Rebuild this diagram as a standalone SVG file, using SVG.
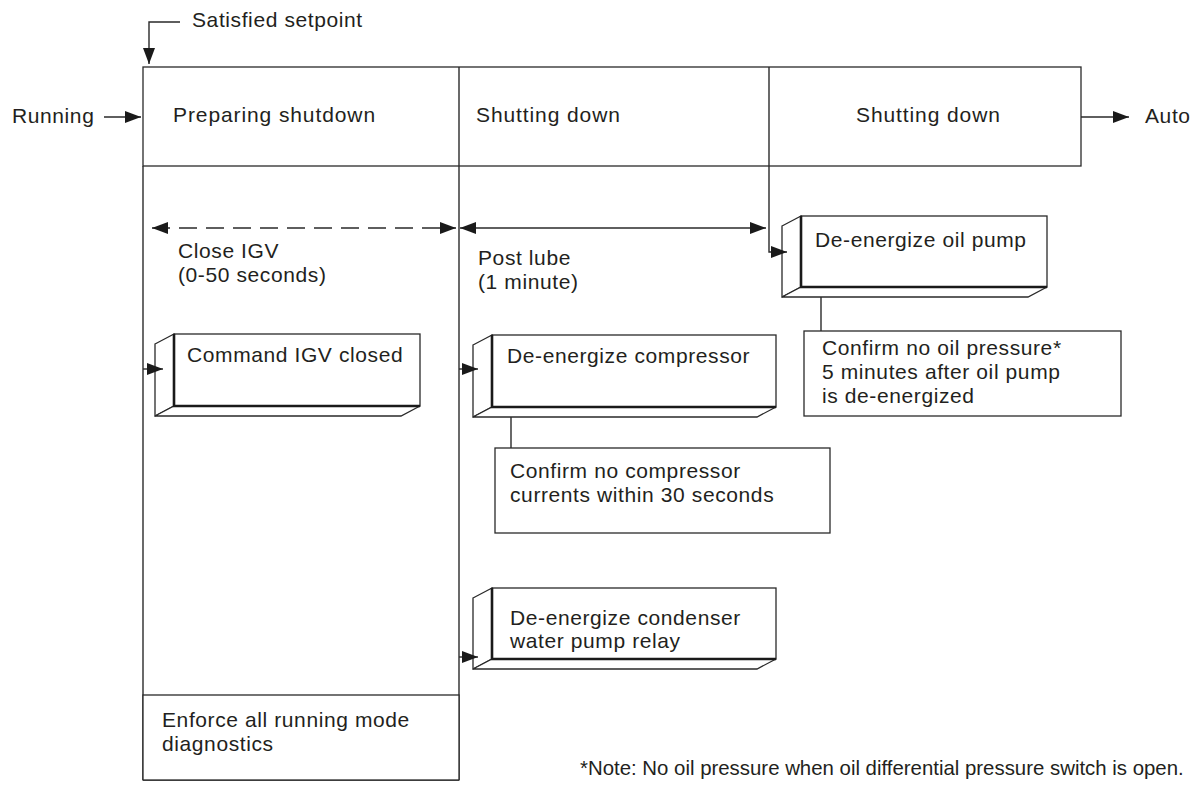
<svg xmlns="http://www.w3.org/2000/svg" width="1193" height="793" viewBox="0 0 1193 793">
<defs>
<style>
text{font-family:"Liberation Sans",Arial,sans-serif;font-size:21px;fill:#231f20;letter-spacing:0.6px}
.hd{letter-spacing:0.9px}
.note{font-size:20.4px;letter-spacing:0px}
.ln{fill:none;stroke:#2a2a2a;stroke-width:1.4}
.face{fill:#fff;stroke:#2a2a2a;stroke-width:1.3}
.thick{fill:none;stroke:#1a1a1a;stroke-width:2.6}
.dash{stroke-dasharray:18 9}
</style>
<marker id="ah" viewBox="0 0 16 12" refX="16" refY="6" markerWidth="16" markerHeight="12" markerUnits="userSpaceOnUse" orient="auto-start-reverse">
<path d="M0,0 L16,6 L0,12 z" fill="#1a1a1a"/>
</marker>
</defs>
<rect width="1193" height="793" fill="#fff"/>

<g id="frame">
<rect class="face" x="143" y="67" width="938" height="99"/>
<line class="ln" x1="143" y1="166" x2="143" y2="780"/>
<line class="ln" x1="459" y1="67" x2="459" y2="780"/>
<line class="ln" x1="143" y1="780" x2="459" y2="780"/>
<line class="ln" x1="769" y1="67" x2="769" y2="166"/>
</g>

<g id="header-preparing"><text class="hd" x="173" y="122">Preparing shutdown</text></g>
<g id="header-shutting1"><text class="hd" x="476" y="122">Shutting down</text></g>
<g id="header-shutting2"><text class="hd" x="856" y="122">Shutting down</text></g>
<g id="label-running"><text x="12" y="123">Running</text></g>
<g id="label-auto"><text x="1145" y="123">Auto</text></g>
<g id="label-satisfied"><text x="192" y="27">Satisfied setpoint</text></g>

<g id="label-closeigv"><text x="178" y="258">Close IGV</text><text x="178" y="282">(0-50 seconds)</text></g>
<g id="label-postlube"><text x="478" y="265">Post lube</text><text x="478" y="289">(1 minute)</text></g>

<g id="box-command-igv">
<polygon class="face" points="155,344 174,334 174,406 155,416"/>
<polygon class="face" points="155,416 174,406 420,406 401,416"/>
<rect class="face" x="174" y="334" width="246" height="72"/>
<polyline class="thick" points="174,334 174,406 420,406"/>
<text x="187" y="362">Command IGV closed</text>
</g>

<g id="box-deenergize-compressor">
<polygon class="face" points="473,345 492,335 492,407 473,417"/>
<polygon class="face" points="473,417 492,407 776,407 757,417"/>
<rect class="face" x="492" y="335" width="284" height="72"/>
<polyline class="thick" points="492,335 492,407 776,407"/>
<text x="507" y="363">De-energize compressor</text>
</g>

<g id="box-confirm-compressor">
<rect class="face" x="495" y="448" width="335" height="85"/>
<text x="510" y="478">Confirm no compressor</text>
<text x="510" y="502">currents within 30 seconds</text>
</g>

<g id="box-deenergize-condenser">
<polygon class="face" points="473,598 492,588 492,659 473,669"/>
<polygon class="face" points="473,669 492,659 776,659 757,669"/>
<rect class="face" x="492" y="588" width="284" height="71"/>
<polyline class="thick" points="492,588 492,659 776,659"/>
<text x="510" y="625">De-energize condenser</text>
<text x="510" y="648">water pump relay</text>
</g>

<g id="box-deenergize-oilpump">
<polygon class="face" points="782,226 801,216 801,287 782,297"/>
<polygon class="face" points="782,297 801,287 1047,287 1028,297"/>
<rect class="face" x="801" y="216" width="246" height="71"/>
<polyline class="thick" points="801,216 801,287 1047,287"/>
<text x="815" y="247">De-energize oil pump</text>
</g>

<g id="box-confirm-oil">
<rect class="face" x="804" y="331" width="317" height="85"/>
<text x="822" y="355">Confirm no oil pressure*</text>
<text x="822" y="379">5 minutes after oil pump</text>
<text x="822" y="403">is de-energized</text>
</g>

<g id="box-enforce">
<rect class="face" x="143" y="695" width="316" height="85"/>
<text x="162" y="727">Enforce all running mode</text>
<text x="162" y="751">diagnostics</text>
</g>

<g id="note"><text class="note" x="580" y="775">*Note: No oil pressure when oil differential pressure switch is open.</text></g>

<g id="connectors">
<polyline class="ln" points="180,22 149,22 149,64" marker-end="url(#ah)"/>
<line class="ln" x1="104" y1="117" x2="141" y2="117" marker-end="url(#ah)"/>
<line class="ln" x1="1081" y1="117" x2="1129" y2="117" marker-end="url(#ah)"/>
<line class="ln dash" x1="152" y1="228" x2="456" y2="228" marker-start="url(#ah)" marker-end="url(#ah)"/>
<line class="ln" x1="460" y1="228" x2="766" y2="228" marker-start="url(#ah)" marker-end="url(#ah)"/>
<line class="ln" x1="143" y1="369" x2="163" y2="369" marker-end="url(#ah)"/>
<line class="ln" x1="459" y1="369" x2="478" y2="369" marker-end="url(#ah)"/>
<line class="ln" x1="459" y1="657" x2="478" y2="657" marker-end="url(#ah)"/>
<polyline class="ln" points="769,166 769,252 787,252" marker-end="url(#ah)"/>
<line class="ln" x1="511" y1="417" x2="511" y2="448"/>
<line class="ln" x1="821" y1="297" x2="821" y2="331"/>
</g>
</svg>
